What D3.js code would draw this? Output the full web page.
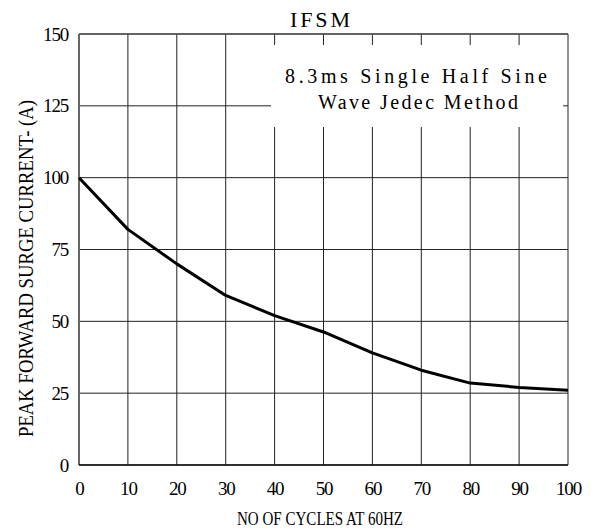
<!DOCTYPE html>
<html>
<head>
<meta charset="utf-8">
<script src="https://cdn.jsdelivr.net/npm/d3@7.9.0/dist/d3.min.js"></script>
<style>
  body { margin: 0; background: #fff; }
  svg text { font-family: "Liberation Serif", Tinos, "Times New Roman", Times, "DejaVu Serif", serif; fill: #000; }
</style>
</head>
<body>
<svg width="595" height="530"></svg>
<script>
// === data ===
const cycles = [0, 10, 20, 30, 40, 50, 60, 70, 80, 90, 100];
const surgeAmps = [100, 82, 70, 59, 52, 46.3, 39, 33, 28.5, 27, 26];
const xTicks = [0, 10, 20, 30, 40, 50, 60, 70, 80, 90, 100];
const yTicks = [0, 25, 50, 75, 100, 125, 150];
const noteLines = ['8.3ms Single Half Sine', 'Wave Jedec Method'];

const svg = d3.select('svg');
const margin = { left: 79, right: 27, top: 34, bottom: 65 };
const W = 595, H = 530;

const x = d3.scaleLinear().domain([0, 100]).range([margin.left, W - margin.right]);
const y = d3.scaleLinear().domain([0, 150]).range([H - margin.bottom, margin.top]);

// grid
const grid = svg.append('g');
xTicks.forEach(t => {
  grid.append('line')
    .attr('x1', x(t)).attr('x2', x(t))
    .attr('y1', y(0)).attr('y2', y(150))
    .attr('stroke', '#222').attr('stroke-width', 1);
});
yTicks.forEach(t => {
  grid.append('line')
    .attr('x1', x(0)).attr('x2', x(100))
    .attr('y1', y(t)).attr('y2', y(t))
    .attr('stroke', '#222').attr('stroke-width', 1);
});

// white box behind the note
svg.append('rect')
  .attr('x', 271).attr('y', 45)
  .attr('width', 292).attr('height', 82)
  .attr('fill', '#fff');

// frame: left & bottom a bit heavier
svg.append('line').attr('x1', x(0)).attr('x2', x(0)).attr('y1', y(0)).attr('y2', y(150))
  .attr('stroke', '#666').attr('stroke-width', 2);
svg.append('line').attr('x1', x(0)).attr('x2', x(100)).attr('y1', y(0)).attr('y2', y(0))
  .attr('stroke', '#111').attr('stroke-width', 1.5);
svg.append('line').attr('x1', x(0)).attr('x2', x(100)).attr('y1', y(150)).attr('y2', y(150))
  .attr('stroke', '#555').attr('stroke-width', 1.5);

// axes (labels only)
const xAxis = svg.append('g')
  .attr('transform', `translate(0,${y(0)})`)
  .call(d3.axisBottom(x).tickValues(xTicks).tickSize(0).tickPadding(17));
xAxis.select('.domain').remove();
xAxis.attr('font-family', null);
xAxis.selectAll('text')
  .attr('font-size', 19)
  .attr('letter-spacing', -1.2);

const yAxis = svg.append('g')
  .attr('transform', `translate(${x(0)},0)`)
  .call(d3.axisLeft(y).tickValues(yTicks).tickSize(0).tickPadding(11));
yAxis.select('.domain').remove();
yAxis.attr('font-family', null);
yAxis.selectAll('text')
  .attr('font-size', 19)
  .attr('letter-spacing', -1.2);

// curve
const line = d3.line()
  .x((d, i) => x(cycles[i]))
  .y(d => y(d));
svg.append('path')
  .datum(surgeAmps)
  .attr('d', line)
  .attr('fill', 'none')
  .attr('stroke', '#000')
  .attr('stroke-width', 3)
  .attr('stroke-linejoin', 'round');

// title
svg.append('text')
  .attr('x', 290).attr('y', 27)
  .attr('font-size', 22)
  .attr('textLength', 60)
  .attr('lengthAdjust', 'spacing')
  .text('IFSM');

// note
const noteSpans = [[285, 262], [318, 200]];
noteLines.forEach((s, i) => {
  svg.append('text')
    .attr('x', noteSpans[i][0]).attr('y', 83 + i * 26)
    .attr('font-size', 20)
    .attr('textLength', noteSpans[i][1])
    .attr('lengthAdjust', 'spacing')
    .text(s);
});

// axis titles
svg.append('text')
  .attr('x', 237).attr('y', 525)
  .attr('font-size', 18)
  .attr('textLength', 166)
  .attr('lengthAdjust', 'spacingAndGlyphs')
  .text('NO OF CYCLES AT 60HZ');

svg.append('text')
  .attr('transform', `translate(33,437) rotate(-90)`)
  .attr('font-size', 20)
  .attr('textLength', 337)
  .attr('lengthAdjust', 'spacingAndGlyphs')
  .text('PEAK FORWARD SURGE CURRENT- (A)');
</script>
</body>
</html>
